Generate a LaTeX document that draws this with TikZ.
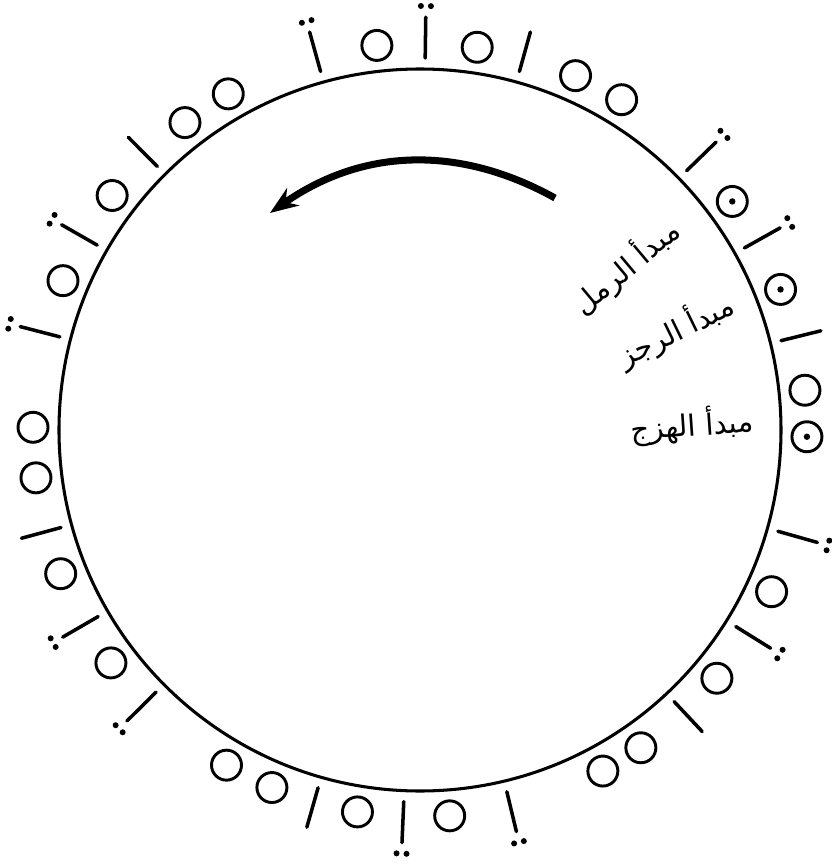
\documentclass[tikz,border=0pt]{standalone}
\usepackage{fontspec}
\usepackage{tikz}
\usetikzlibrary{arrows.meta}
\newfontfamily\arabicfont[Script=Arabic]{DejaVu Sans}
\TeXXeTstate=1

\begin{document}
\begin{tikzpicture}[x=0.03cm,y=0.03cm,
  ring/.style={line width=2.5pt},
  stroke/.style={line width=3pt, line cap=round},
  bahrtext/.style={inner sep=0pt, font=\arabicfont\fontsize{25}{28}\selectfont}]
\useasboundingbox (-420,-434) rectangle (411,430);
\draw[line width=2.6pt] (0,0) circle (361);
\foreach \a in {5.9,58.6,66.3,81.5,96.4,119.7,127.4,142.7,157.3,179.6,187.1,201.8,217,240,247.5,260.7,274.4,298.2,304.8,320.1,335.3}
  \draw[ring] (\a:387) circle (15);
\foreach \a in {-1,21.3,36.2} {
  \draw[ring] (\a:387) circle (15);
  \fill (\a:387) circle (3.2);
}
\foreach \a in {13.9,74.5,134.9,195.2,254.1,313.1}
  \draw[stroke] (\a:372) -- (\a:413);
\foreach \a in {29.3,44.2,89.2,105.5,150.2,165.5,210.1,224.8,267.5,283.5,328.1,344.2} {
  \draw[stroke] (\a:372) -- (\a:413);
  \fill ([shift={(\a+90:5)}]\a:424) circle (3);
  \fill ([shift={(\a-90:5)}]\a:424) circle (3);
}
\coordinate (arrS) at (135,232);
\coordinate (arrE) at (-150,217);
\draw[line width=6pt, -{Stealth[length=24pt,width=18pt]}] (arrS) to[bend right=32] (arrE);
\node[bahrtext, rotate=40] (ramal) at (206,163) {\beginR مبدأ الرمل\endR};
\node[bahrtext, rotate=26] (rajaz) at (256,100) {\beginR مبدأ الرجز\endR};
\node[bahrtext, rotate=4] (hazaj) at (272,5) {\beginR مبدأ الهزج\endR};
\end{tikzpicture}
\end{document}
